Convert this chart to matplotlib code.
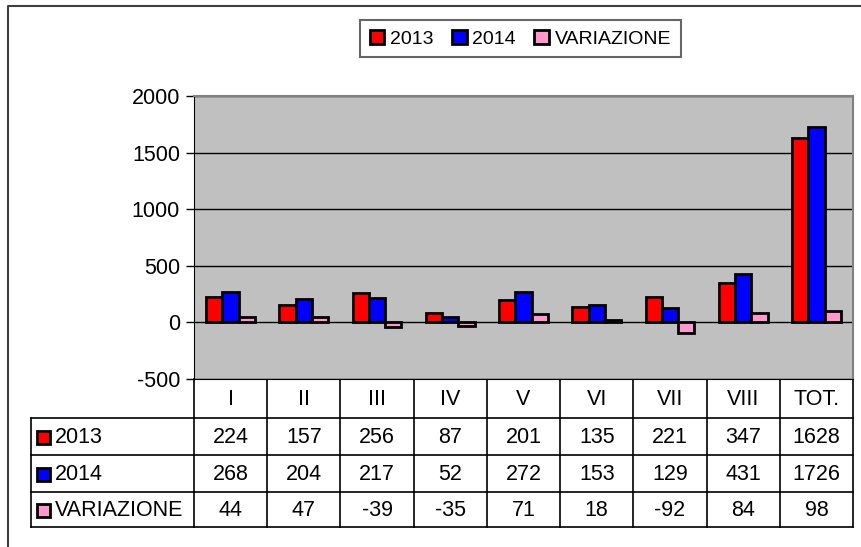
import matplotlib.pyplot as plt
import numpy as np
from matplotlib.patches import Patch, Rectangle

plt.rcParams['font.family'] = ['Liberation Sans', 'DejaVu Sans']
plt.rcParams['axes.unicode_minus'] = False

# data
categories = ['I', 'II', 'III', 'IV', 'V', 'VI', 'VII', 'VIII', 'TOT.']
series_names = ['2013', '2014', 'VARIAZIONE']
v2013 = [224, 157, 256, 87, 201, 135, 221, 347, 1628]
v2014 = [268, 204, 217, 52, 272, 153, 129, 431, 1726]
variazione = [44, 47, -39, -35, 71, 18, -92, 84, 98]
colors = ['#FF0000', '#0000FF', '#FF99CC']

W, H = 861, 547
fig = plt.figure(figsize=(W / 100, H / 100), dpi=100)

# plot area in pixels
left, right, top, bottom = 194, 853, 96, 379
ax = fig.add_axes([left / W, 1 - bottom / H, (right - left) / W, (bottom - top) / H])
ax.set_facecolor('#C0C0C0')

x = np.arange(len(categories))
bw = 0.222
for i, vals in enumerate([v2013, v2014, variazione]):
    ax.bar(x + (i - 1) * bw, vals, bw, color=colors[i], edgecolor='black',
           linewidth=2, zorder=3)

ax.set_xlim(-0.5, len(categories) - 0.5)
ax.set_ylim(-500, 2000)
ax.set_yticks(range(-500, 2001, 500))
ax.set_xticks([])
ax.yaxis.grid(True, color='black', linewidth=1)
ax.set_axisbelow(True)
ax.tick_params(axis='y', labelsize=15.5, length=6, width=1, color='black', pad=4)
for s in ['top', 'right']:
    ax.spines[s].set_color('#808080')
    ax.spines[s].set_linewidth(1.5)
ax.spines['left'].set_color('black')
ax.spines['bottom'].set_color('black')

# overlay in pixel coordinates for table and frame
ov = fig.add_axes([0, 0, 1, 1], zorder=-1)
ov.set_xlim(0, W)
ov.set_ylim(H, 0)
ov.axis('off')

# outer frame
ov.plot([8, 8, W + 5], [H + 5, 6, 6], color='#404040', linewidth=1.5)

# data table
colw = (right - left) / len(categories)
rows_y = [379, 418, 455, 492, 527]
lab_x = 31
for y in rows_y[1:]:
    ov.plot([lab_x, right], [y, y], color='black', linewidth=1.2)
ov.plot([lab_x, lab_x], [rows_y[1], rows_y[-1]], color='black', linewidth=1.2)
for k in range(len(categories) + 1):
    xx = left + k * colw
    ov.plot([xx, xx], [rows_y[0], rows_y[-1]], color='black', linewidth=1.2)

for k, c in enumerate(categories):
    ov.text(left + (k + 0.5) * colw, (rows_y[0] + rows_y[1]) / 2 + 1, c,
            ha='center', va='center', fontsize=15.5)

for r, (name, vals) in enumerate(zip(series_names, [v2013, v2014, variazione])):
    yc = (rows_y[r + 1] + rows_y[r + 2]) / 2 + 1
    ov.add_patch(Rectangle((37, yc - 7), 13, 13, facecolor=colors[r],
                           edgecolor='black', linewidth=2))
    ov.text(55, yc, name, ha='left', va='center', fontsize=15.5)
    for k, v in enumerate(vals):
        ov.text(left + (k + 0.5) * colw, yc, str(v), ha='center', va='center',
                fontsize=15.5)

# legend
handles = [Patch(facecolor=c, edgecolor='black', linewidth=2) for c in colors]
leg = fig.legend(handles, series_names, loc='upper center',
                 bbox_to_anchor=(520.5 / W, 1 - 20 / H), ncol=3, fontsize=14,
                 frameon=True, fancybox=False, handlelength=0.75,
                 handleheight=0.75, handletextpad=0.3, columnspacing=0.95,
                 borderpad=0.5, borderaxespad=0)
leg.get_frame().set_edgecolor('#404040')
leg.get_frame().set_linewidth(1.5)

fig.savefig('out.png', dpi=100)
